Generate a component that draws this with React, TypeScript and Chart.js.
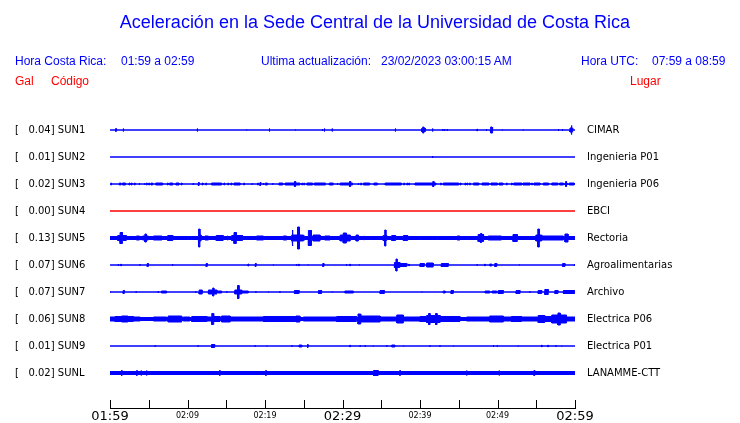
import React, { useEffect, useRef } from 'react';
import { Chart, registerables } from 'chart.js';

Chart.register(...registerables);

// ---------- data ----------
const CODES = ['SUN1', 'SUN2', 'SUN3', 'SUN4', 'SUN5', 'SUN6', 'SUN7', 'SUN8', 'SUN9', 'SUNL'];
const PEAK_GAL = ['0.04', '0.01', '0.02', '0.00', '0.13', '0.07', '0.07', '0.06', '0.01', '0.02'];
const PLACES = ['CIMAR', 'Ingenieria P01', 'Ingenieria P06', 'EBCI', 'Rectoria', 'Agroalimentarias', 'Archivo', 'Electrica P06', 'Electrica P01', 'LANAMME-CTT'];
const TRACE_COLORS = ['#0000ff', '#0000ff', '#0000ff', '#ff0000', '#0000ff', '#0000ff', '#0000ff', '#0000ff', '#0000ff', '#0000ff'];
// half-height of the quiet trace (display units)
const NOISE_FLOOR = [0.5, 0.5, 0.5, 0.5, 2, 0.5, 0.5, 2, 0.5, 2];

const START_MINUTE = 119; // 01:59 local time
const SPAN_MINUTES = 60;

// events: [start minute, end minute, half amplitude]
const EV_SUN1 = [
  [0.75, 0.8, 2], [1.7, 1.75, 2], [11.25, 11.3, 2], [17.6, 17.65, 1], [20.55, 20.6, 2], [23.9, 23.95, 1],
  [27.4, 27.45, 1.5], [27.65, 27.7, 2], [28.65, 28.7, 2], [36.8, 36.85, 2], [40.2, 40.7, 2], [40.35, 40.5, 3.5],
  [41.6, 41.65, 2], [42.9, 42.95, 1.5], [43.15, 43.2, 1.5], [43.5, 43.55, 1.5], [47.35, 47.4, 1.5], [48.55, 48.6, 1.5],
  [49.05, 49.4, 2], [49.15, 49.3, 3.5], [50.6, 50.65, 1], [53.3, 53.35, 1], [57.85, 57.9, 1.5], [58.35, 58.4, 1.5],
  [59.35, 59.7, 2.5], [59.5, 59.6, 5],
];
const EV_SUN2 = [[41.6, 41.65, 1.5]];
const EV_SUN3 = [
  [0.1, 0.2, 1.5], [1.2, 1.4, 1.5], [1.6, 2.0, 1.5], [2.45, 2.55, 1.5], [2.75, 2.85, 1.5], [3.15, 3.25, 1.5], [3.75, 3.85, 1.5],
  [4.4, 4.5, 1.5], [4.7, 4.8, 1.5], [5.0, 5.1, 1.5], [5.3, 5.5, 1.5], [5.9, 6.8, 1.5], [7.4, 7.5, 1.5], [7.7, 8.1, 1.5],
  [8.5, 8.9, 1.5], [9.2, 9.3, 1.5], [10.7, 10.8, 1], [11.4, 11.5, 2], [11.9, 12.0, 1.5], [12.35, 12.45, 1.5], [13.1, 14.4, 1.5],
  [14.7, 14.8, 1.5], [15.2, 15.3, 1.5], [15.6, 15.7, 1.5], [16.0, 16.8, 1.5], [17.25, 17.35, 1.5], [18.3, 18.4, 1],
  [19.05, 19.15, 1.5], [19.35, 19.45, 2], [19.75, 19.85, 1.5], [20.05, 20.3, 1.5], [20.95, 21.05, 1], [21.8, 22.3, 1.5],
  [22.6, 24.5, 1.5], [23.8, 23.95, 3], [24.75, 24.85, 1.5], [25.0, 25.1, 1.5], [25.4, 26.15, 1.5], [26.35, 27.8, 1.5],
  [28.3, 28.8, 1.5], [29.3, 29.4, 1.5], [29.7, 31.3, 1.5], [30.9, 31.05, 3], [32.0, 32.1, 1.5], [32.35, 32.45, 1.5],
  [32.7, 33.5, 1.5], [34.05, 34.5, 1.5], [35.5, 37.6, 1.5], [37.9, 38.0, 1.5], [38.3, 38.4, 1.5], [38.55, 38.65, 1.5],
  [39.35, 42.05, 1.5], [41.65, 41.8, 3], [42.65, 42.75, 1.5], [43.0, 45.0, 1.5], [45.2, 45.3, 1.5], [45.8, 45.9, 1.5],
  [46.05, 46.15, 1.5], [46.4, 46.5, 1.5], [46.9, 47.6, 1.5], [48.0, 48.9, 1.5], [49.15, 50.0, 1.5], [50.2, 50.7, 1.5],
  [51.15, 51.25, 1.5], [51.8, 51.9, 1.5], [52.1, 53.15, 1.5], [53.3, 54.2, 1.5], [54.4, 54.5, 1.5], [54.7, 55.5, 1.5],
  [55.9, 56.6, 1.5], [57.0, 57.8, 1.5], [58.0, 58.5, 1.5], [58.7, 59.0, 1.5], [58.8, 58.9, 3], [59.25, 59.9, 1.5],
];
const EV_SUN4: number[][] = [];
const EV_SUN5 = [
  [1.0, 2.1, 3], [1.3, 1.6, 6], [3.4, 3.8, 2.5], [4.2, 4.95, 2.5], [4.5, 4.7, 4.5], [5.6, 6.7, 2.5], [7.45, 8.1, 3],
  [10.1, 10.15, 2.5], [10.5, 10.55, 2.5], [11.4, 11.75, 3.5], [11.45, 11.6, 9.5], [12.25, 12.7, 2.5], [13.7, 14.6, 3],
  [15.15, 15.25, 2.5], [15.7, 17.1, 3], [16.0, 16.3, 6], [18.9, 19.8, 2.5], [20.0, 20.05, 2.5], [22.35, 22.8, 2.5],
  [23.45, 24.95, 3.5], [23.5, 23.6, 8.5], [24.2, 24.45, 11.5], [24.7, 25.15, 2.5], [25.6, 26.0, 8], [26.2, 27.1, 3.5],
  [27.7, 28.4, 2.5], [29.7, 31.0, 3.5], [30.1, 30.5, 5.5], [31.75, 32.05, 3.5], [32.75, 32.8, 2.5], [33.75, 33.8, 2.5],
  [35.25, 35.7, 3], [35.45, 35.6, 8.5], [36.35, 36.85, 3], [37.85, 38.4, 3], [39.9, 39.95, 2.5], [42.2, 42.25, 2.5],
  [44.8, 45.15, 2.5], [46.2, 46.25, 2.5], [47.5, 48.2, 4], [47.8, 47.95, 5], [48.8, 50.5, 2.5], [52.0, 52.55, 4],
  [54.95, 55.7, 3.5], [55.2, 55.4, 9.5], [55.7, 58.5, 2.5], [58.7, 59.1, 4.5],
];
const EV_SUN6 = [
  [1.05, 1.1, 1.5], [1.4, 1.45, 1.5], [3.85, 3.9, 1], [4.8, 4.95, 2], [8.05, 8.1, 1.5], [12.4, 12.55, 2], [17.8, 17.9, 1.5],
  [18.75, 18.85, 2], [21.05, 21.1, 1], [24.05, 24.1, 1.5], [24.35, 24.4, 1.5], [25.55, 25.6, 1], [27.45, 27.6, 2],
  [30.5, 30.55, 1.5], [30.95, 31.0, 1.5], [32.15, 32.2, 1], [36.7, 37.4, 3], [36.9, 37.05, 6.5], [37.4, 38.3, 2],
  [38.55, 38.6, 1.5], [40.0, 40.55, 2], [40.85, 41.7, 2.5], [42.75, 43.65, 2], [47.35, 47.4, 1], [48.35, 48.4, 1.5],
  [49.0, 49.25, 1.5], [49.65, 49.9, 2], [52.8, 52.85, 1], [58.4, 58.7, 2], [59.9, 59.95, 1.5],
];
const EV_SUN7 = [
  [0.05, 0.1, 1], [1.7, 1.85, 2], [3.35, 3.4, 1], [6.2, 6.25, 1.5], [6.65, 7.3, 1.5], [11.05, 11.1, 1], [11.5, 11.9, 2.5],
  [12.7, 13.8, 2.5], [13.25, 13.4, 4.5], [13.95, 14.4, 1.5], [15.05, 15.1, 1], [16.1, 17.0, 2.5], [16.45, 16.65, 7],
  [17.0, 17.85, 1.5], [18.8, 18.85, 1], [20.4, 20.45, 1], [21.9, 21.95, 1], [23.8, 24.4, 2], [26.9, 27.3, 2],
  [28.65, 28.7, 1], [30.3, 31.4, 1.5], [34.85, 35.4, 2], [40.2, 40.25, 1], [43.0, 43.25, 1.5], [44.0, 44.3, 2],
  [48.4, 49.0, 1.5], [49.3, 49.9, 1.5], [50.1, 50.75, 2], [52.4, 52.9, 2], [54.15, 54.2, 1], [55.25, 55.7, 2],
  [56.1, 56.55, 3], [57.4, 57.8, 2], [58.5, 59.95, 2],
];
const EV_SUN8 = [
  [0, 0.65, 2.5], [0.65, 3.0, 3], [1.5, 2.3, 3.5], [3.0, 3.9, 2.5], [5.6, 7.3, 2.5], [7.5, 9.25, 3.5], [9.45, 10.3, 2.5],
  [10.55, 12.5, 3], [12.5, 13.1, 2.5], [13.15, 13.35, 6], [13.4, 14.2, 3], [14.4, 15.5, 3.5], [15.5, 19.8, 2.5],
  [19.8, 24.5, 3], [24.0, 24.5, 3.5], [24.95, 27.1, 2.5], [27.1, 29.25, 2.5], [29.25, 31.8, 3], [32.0, 32.35, 5.5],
  [32.35, 34.85, 3.5], [34.85, 37.0, 2.5], [37.0, 37.85, 4.5], [37.85, 40.0, 2.5], [40.0, 40.85, 3], [40.85, 42.6, 4],
  [41.1, 41.3, 6], [42.0, 42.2, 6], [42.6, 45.15, 3], [46.0, 49.0, 2.5], [49.0, 50.75, 3.5], [50.75, 51.8, 2.5],
  [51.8, 53.1, 3], [53.1, 55.25, 2.5], [55.25, 56.1, 4], [56.1, 57.0, 3], [57.0, 58.9, 4.5], [57.8, 58.1, 6.5],
  [58.9, 60, 2.5],
];
const EV_SUN9 = [
  [5.8, 5.85, 1], [11.35, 11.4, 1], [13.1, 13.5, 2], [18.7, 18.75, 1], [20.2, 20.25, 1], [23.45, 23.5, 1],
  [24.4, 24.75, 1.5], [25.5, 25.55, 2], [30.95, 31.0, 1.5], [32.25, 32.3, 1], [32.9, 32.95, 1], [33.95, 34.0, 1],
  [35.7, 35.75, 1], [36.35, 36.75, 1.5], [37.85, 37.9, 1], [41.25, 41.3, 1], [42.55, 42.6, 1], [44.3, 44.35, 1],
  [49.45, 49.5, 1.5], [49.95, 50.0, 1.5], [52.65, 52.7, 1], [55.7, 55.75, 1.5], [56.5, 56.55, 1.5], [57.5, 57.6, 1],
  [58.25, 58.3, 1],
];
const EV_SUNL = [
  [1.5, 1.55, 3], [3.45, 3.5, 3], [4.0, 4.05, 3], [4.7, 4.75, 3], [14.15, 14.2, 3], [20.1, 20.15, 3], [34.0, 34.6, 3],
  [37.4, 37.45, 3], [46.0, 46.05, 3], [50.2, 50.25, 3], [54.7, 54.8, 3],
];
const EVENTS = [EV_SUN1, EV_SUN2, EV_SUN3, EV_SUN4, EV_SUN5, EV_SUN6, EV_SUN7, EV_SUN8, EV_SUN9, EV_SUNL];

// ---------- layout constants ----------
const TRACE_GAP = 27;
const Y_MIN = -35;
const Y_MAX = 10 * TRACE_GAP;
const centerOf = (i: number) => (CODES.length - 1 - i) * TRACE_GAP;

const fmtTime = (v: number) => {
  const t = START_MINUTE + v;
  const h = Math.floor(t / 60);
  const m = t % 60;
  return `${String(h).padStart(2, '0')}:${String(m).padStart(2, '0')}`;
};

function envelope(base: number, events: number[][]) {
  const set = new Set<number>([0, SPAN_MINUTES]);
  events.forEach(([s, e]) => { set.add(s); set.add(e); });
  const xs = Array.from(set).sort((a, b) => a - b);
  const pts: { x: number; h: number }[] = [];
  for (let k = 0; k < xs.length - 1; k++) {
    const a = xs[k];
    const b = xs[k + 1];
    let h = base;
    for (const [s, e, amp] of events) if (s <= a && e >= b) h = Math.max(h, amp);
    pts.push({ x: a, h }, { x: b, h });
  }
  return pts;
}

const upTicks = {
  id: 'upTicks',
  afterDraw(chart: any) {
    const s = chart.scales.x;
    const ctx = chart.ctx;
    ctx.save();
    ctx.strokeStyle = '#000';
    ctx.lineWidth = 1;
    s.ticks.forEach((t: any) => {
      const px = Math.round(s.getPixelForValue(t.value)) + 0.5;
      ctx.beginPath();
      ctx.moveTo(px, s.top);
      ctx.lineTo(px, s.top - 8);
      ctx.stroke();
    });
    ctx.restore();
  },
};

export default function App() {
  const ref = useRef<HTMLCanvasElement>(null);

  useEffect(() => {
    if (!ref.current) return;
    const datasets: any[] = [];
    CODES.forEach((code, i) => {
      const c = centerOf(i);
      const env = envelope(NOISE_FLOOR[i], EVENTS[i]);
      const col = TRACE_COLORS[i];
      datasets.push({
        label: code + ' +',
        data: env.map((p) => ({ x: p.x, y: c + Math.max(p.h - 0.5, 0) })),
        borderColor: col,
        backgroundColor: col,
        borderWidth: 1,
        pointRadius: 0,
        fill: '+1',
      });
      datasets.push({
        label: code + ' -',
        data: env.map((p) => ({ x: p.x, y: c - Math.max(p.h - 0.5, 0) })),
        borderColor: col,
        backgroundColor: col,
        borderWidth: 1,
        pointRadius: 0,
        fill: false,
      });
    });

    const leftLabels = CODES.map((c, i) => `[   ${PEAK_GAL[i]}] ${c}`);
    const stationTicks = (scale: any) => {
      scale.ticks = CODES.map((_, i) => ({ value: centerOf(i) }));
    };

    const chart = new Chart(ref.current, {
      type: 'line',
      data: { datasets },
      plugins: [upTicks],
      options: {
        animation: false,
        responsive: false,
        devicePixelRatio: 1,
        layout: { padding: { left: 15, top: 103, right: 0, bottom: 0 } },
        plugins: { legend: { display: false }, tooltip: { enabled: false }, title: { display: false } },
        elements: { line: { tension: 0 } },
        scales: {
          x: {
            type: 'linear',
            min: 0,
            max: SPAN_MINUTES,
            grid: { display: false, drawTicks: false },
            border: { display: true, color: '#000', width: 1 },
            afterFit: (s: any) => { s.height = 15; s.paddingLeft = 0; s.paddingRight = 0; },
            ticks: {
              stepSize: 5,
              autoSkip: false,
              maxRotation: 0,
              padding: 0,
              color: '#000',
              callback: (v: any) => (Number(v) % 10 === 0 ? fmtTime(Number(v)) : ''),
              font: (ctx: any) =>
                ctx.tick && ctx.tick.value % 30 === 0
                  ? { family: 'DejaVu Sans', size: 13, lineHeight: 1.3 }
                  : { family: 'DejaVu Sans', size: 8, lineHeight: 2.0 },
            },
          },
          y: {
            position: 'left',
            min: Y_MIN,
            max: Y_MAX,
            afterBuildTicks: stationTicks,
            afterFit: (s: any) => { s.width = 95; s.paddingTop = 0; s.paddingBottom = 0; },
            grid: { display: false, drawTicks: false },
            border: { display: false },
            ticks: {
              crossAlign: 'far',
              color: '#000',
              font: { family: 'DejaVu Sans', size: 10 },
              callback: (_v: any, idx: number) => leftLabels[idx],
            },
          },
          y2: {
            position: 'right',
            min: Y_MIN,
            max: Y_MAX,
            afterBuildTicks: stationTicks,
            afterFit: (s: any) => { s.width = 165; s.paddingTop = 0; s.paddingBottom = 0; },
            grid: { display: false, drawTicks: false },
            border: { display: false },
            ticks: {
              padding: 12,
              color: '#000',
              font: { family: 'DejaVu Sans', size: 10 },
              callback: (_v: any, idx: number) => PLACES[idx],
            },
          },
        },
      } as any,
    });
    return () => chart.destroy();
  }, []);

  const blue = '#0000ff';
  const red = '#ff0000';
  const base: React.CSSProperties = {
    position: 'absolute',
    fontFamily: '"Liberation Sans", Arial, sans-serif',
    fontSize: 12,
    lineHeight: '12px',
    whiteSpace: 'pre',
  };
  return (
    <div style={{ position: 'fixed', left: 0, top: 0, width: 740, height: 423, background: '#fff', overflow: 'hidden' }}>
      <canvas ref={ref} width={740} height={423} style={{ position: 'absolute', left: 0, top: 0, width: 740, height: 423 }} />
      <div style={{ ...base, left: 0, width: 750, top: 13, fontSize: 18, lineHeight: '18px', textAlign: 'center', color: blue }}>
        Aceleración en la Sede Central de la Universidad de Costa Rica
      </div>
      <div style={{ ...base, left: 15, top: 55, color: blue }}>Hora Costa Rica:</div>
      <div style={{ ...base, left: 121, top: 55, color: blue }}>01:59 a 02:59</div>
      <div style={{ ...base, left: 261, top: 55, color: blue }}>Ultima actualización:</div>
      <div style={{ ...base, left: 381, top: 55, color: blue }}>23/02/2023 03:00:15 AM</div>
      <div style={{ ...base, left: 581, top: 55, color: blue }}>Hora UTC:</div>
      <div style={{ ...base, left: 652, top: 55, color: blue }}>07:59 a 08:59</div>
      <div style={{ ...base, left: 15, top: 75, color: red }}>Gal</div>
      <div style={{ ...base, left: 51, top: 75, color: red }}>Código</div>
      <div style={{ ...base, left: 630, top: 75, color: red }}>Lugar</div>
    </div>
  );
}
